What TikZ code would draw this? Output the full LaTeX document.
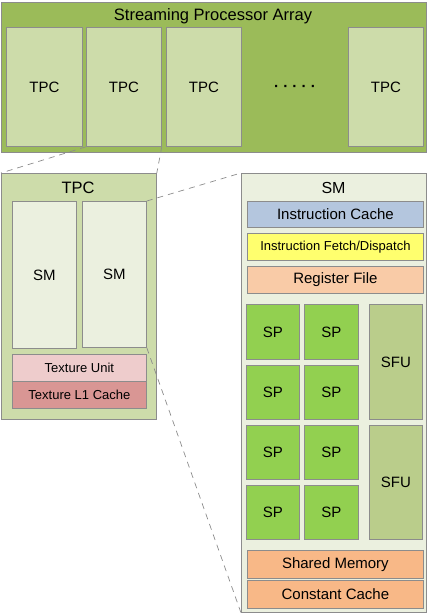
\documentclass[tikz,border=0pt]{standalone}
\usepackage{fontspec}
\setmainfont{Liberation Sans}
\definecolor{bordergray}{HTML}{8C8C8C}
\definecolor{arrayg}{HTML}{9BBB59}
\definecolor{tpcfill}{HTML}{CDDCAA}
\definecolor{smfill}{HTML}{EBF0DF}
\definecolor{icache}{HTML}{B4C6DE}
\definecolor{fetchy}{HTML}{FFFF6E}
\definecolor{regf}{HTML}{F9CBA7}
\definecolor{spg}{HTML}{92D050}
\definecolor{sfug}{HTML}{BACD8B}
\definecolor{sharedo}{HTML}{F8B887}
\definecolor{texu}{HTML}{EECCCC}
\definecolor{texl}{HTML}{D99694}
\tikzset{
  box/.style={draw=bordergray, line width=0.8pt, anchor=north west, inner sep=0pt,
    font=\fontsize{15}{18}\selectfont, align=center},
  titletext/.style={inner sep=0pt, font=\fontsize{16.5}{19}\selectfont},
  zoomline/.style={draw=bordergray, line width=0.7pt, dash pattern=on 6pt off 5pt},
}
\newcommand\mybox[7]{\node[box,#6,minimum width=#4pt,minimum height=#5pt] (#1) at (#2,#3) {#7};}
\begin{document}
\begin{tikzpicture}[x=1pt,y=-1pt]
\useasboundingbox (0,0) rectangle (426,615);
% Streaming processor array
\mybox{spa}{1}{2}{425}{150}{fill=arrayg}{}
\node[titletext] (spat) at (213,16) {Streaming Processor Array};
\mybox{tpca}{6}{27}{76}{119}{fill=tpcfill}{TPC}
\mybox{tpcb}{86}{27}{75}{119}{fill=tpcfill}{TPC}
\mybox{tpcc}{166}{27}{75}{119}{fill=tpcfill}{TPC}
\mybox{tpcd}{348}{27}{75}{119}{fill=tpcfill}{TPC}
\node[inner sep=0pt, font=\fontsize{15}{18}\selectfont\bfseries] (dots) at (295,88) {· · · · ·};
% TPC detail
\mybox{tpcx}{1}{173}{155}{246}{fill=tpcfill}{}
\node[titletext] (tpct) at (78,188) {TPC};
\mybox{sma}{12}{201}{64}{147}{fill=smfill}{SM}
\mybox{smb}{82}{201}{64}{146}{fill=smfill}{SM}
\mybox{texunit}{12}{354}{134}{27}{fill=texu,font=\fontsize{13}{16}\selectfont}{Texture Unit}
\mybox{texl1}{12}{381}{134}{27}{fill=texl,font=\fontsize{13}{16}\selectfont}{Texture L1 Cache}
% SM detail
\mybox{smx}{241}{173}{184.5}{439}{fill=smfill}{}
\node[titletext,font=\fontsize{16}{19}\selectfont] (smt) at (333.5,188) {SM};
\mybox{ic}{247}{201}{176}{26}{fill=icache}{Instruction Cache}
\mybox{ifd}{247}{233}{176}{27}{fill=fetchy,font=\fontsize{13}{16}\selectfont}{Instruction Fetch/Dispatch}
\mybox{rf}{247}{266}{176}{27}{fill=regf}{Register File}
\mybox{spa1}{246}{304}{53}{55}{fill=spg}{SP}
\mybox{spb1}{304}{304}{54}{55}{fill=spg}{SP}
\mybox{spa2}{246}{365}{53}{54}{fill=spg}{SP}
\mybox{spb2}{304}{365}{54}{54}{fill=spg}{SP}
\mybox{spa3}{246}{425}{53}{54}{fill=spg}{SP}
\mybox{spb3}{304}{425}{54}{54}{fill=spg}{SP}
\mybox{spa4}{246}{485}{53}{54}{fill=spg}{SP}
\mybox{spb4}{304}{485}{54}{54}{fill=spg}{SP}
\mybox{sfua}{369}{304}{53}{115}{fill=sfug}{SFU}
\mybox{sfub}{369}{425}{53}{114}{fill=sfug}{SFU}
\mybox{shm}{247}{550}{176}{28}{fill=sharedo}{Shared Memory}
\mybox{cc}{247}{580}{176}{28}{fill=sharedo}{Constant Cache}
% zoom lines
\draw[zoomline] (tpcb.south west) -- (tpcx.north west);
\draw[zoomline] (tpcb.south east) -- (tpcx.north east);
\draw[zoomline] (smb.north east) -- (smx.north west);
\draw[zoomline] (smb.south east) -- (smx.south west);
\end{tikzpicture}
\end{document}
